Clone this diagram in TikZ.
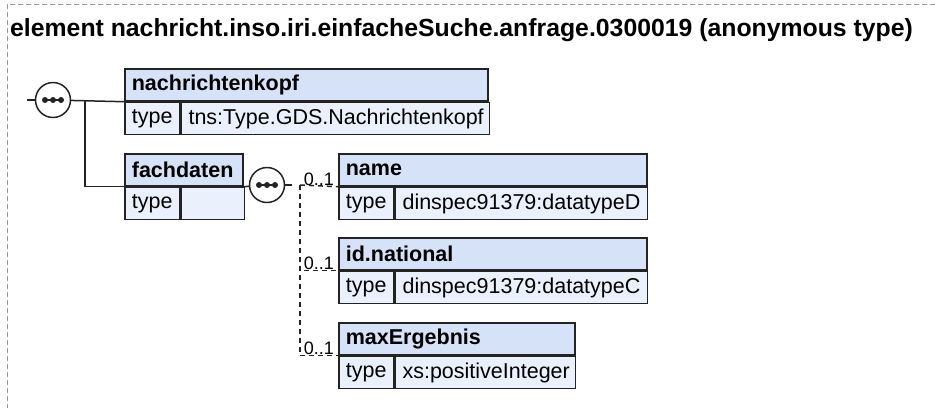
\documentclass[tikz,border=0pt]{standalone}
\usepackage{fontspec}
\setmainfont{Liberation Sans}
\usetikzlibrary{positioning}
\definecolor{hdrblue}{RGB}{214,226,247}
\definecolor{rowblue}{RGB}{235,241,252}
\definecolor{edge}{RGB}{35,35,35}

\tikzset{
  boxtext/.style={font=\fontsize{21.5}{24}\selectfont},
  hdr/.style={draw=edge, line width=1.7, fill=hdrblue, anchor=north west,
    minimum height=32, inner xsep=7, inner ysep=0, align=left,
    font=\fontsize{21.5}{24}\selectfont\bfseries},
  typecell/.style={draw=edge, line width=1.7, fill=rowblue, anchor=north west,
    minimum height=32, inner xsep=7, inner ysep=0, text width=41, align=left, boxtext},
  valcell/.style={draw=edge, line width=1.7, fill=rowblue, anchor=north west,
    minimum height=32, inner xsep=7, inner ysep=0, align=left, boxtext},
  seq/.style={circle, draw=edge, line width=1.5, fill=white, minimum size=35, inner sep=0},
  conn/.style={draw=edge, line width=1.5},
  opt/.style={conn, dash pattern=on 5pt off 4pt},
  card/.style={font=\fontsize{18}{20}\selectfont, inner sep=1, anchor=south east},
  frame/.style={draw=gray!80, line width=1, dash pattern=on 5pt off 3pt}
}

\begin{document}
\begin{tikzpicture}[x=1pt, y=-1pt]
  \useasboundingbox (0,0) rectangle (935,408);
  \draw[frame] (935,4) -- (7,4) -- (7,408);
  \node[anchor=base west, inner sep=0, font=\fontsize{24.8}{28}\selectfont\bfseries] (title) at (10,36)
    {element nachricht.inso.iri.einfacheSuche.anfrage.0300019 (anonymous type)};

  % main sequence
  \coordinate (start) at (27,100);
  \coordinate (fork) at (85,100);
  \node[seq] (seq1) at (53,100) {};
  \draw[conn] (start) -- (seq1);

  % nachrichtenkopf
  \node[hdr, text width=349] (kopf) at (124,68) {nachrichtenkopf};
  \node[typecell] (kopftype) at (kopf.south west) {type};
  \node[valcell, text width=294] (kopfval) at (kopftype.north east) {tns:Type.GDS.Nachrichtenkopf};

  % fachdaten
  \node[hdr, text width=104] (fach) at (124,153) {fachdaten};
  \node[typecell] (fachtype) at (fach.south west) {type};
  \node[valcell, text width=49] (fachval) at (fachtype.north east) {};

  \draw[conn] (seq1) -- (kopf.south west);
  \draw[conn] (fork) |- (fach.south west);

  % inner sequence
  \node[seq] (seq2) at (267,185) {};
  \coordinate (seq2out) at (292,185);
  \coordinate (split) at (300,185);
  \draw[conn] (fach.south east) -- (seq2);
  \draw[conn] (seq2) -- (seq2out);

  \foreach \s in {seq1,seq2} {
    \draw[edge, line width=1.2] ([xshift=-10pt]\s.center) -- ([xshift=10pt]\s.center);
    \foreach \dx in {-8,0,8}
      \fill[edge] ([xshift=\dx pt]\s.center) circle (3pt);
  }

  % name
  \node[hdr, text width=294] (name) at (338,153) {name};
  \node[typecell] (nametype) at (name.south west) {type};
  \node[valcell, text width=238] (nameval) at (nametype.north east) {dinspec91379:datatypeD};

  % id.national
  \node[hdr, text width=294] (idnat) at (338,237) {id.national};
  \node[typecell] (idnattype) at (idnat.south west) {type};
  \node[valcell, text width=238] (idnatval) at (idnattype.north east) {dinspec91379:datatypeC};

  % maxErgebnis
  \node[hdr, text width=222] (maxerg) at (338,322) {maxErgebnis};
  \node[typecell] (maxergtype) at (maxerg.south west) {type};
  \node[valcell, text width=166] (maxergval) at (maxergtype.north east) {xs:positiveInteger};

  \draw[opt] (split) -- (name.south west);
  \draw[opt] (split) |- (idnat.south west);
  \draw[opt] (split) |- (maxerg.south west);

  \node[card] (namecard) at ([xshift=-3pt]name.south west) {0..1};
  \node[card] (idnatcard) at ([xshift=-3pt]idnat.south west) {0..1};
  \node[card] (maxergcard) at ([xshift=-3pt]maxerg.south west) {0..1};
\end{tikzpicture}
\end{document}
